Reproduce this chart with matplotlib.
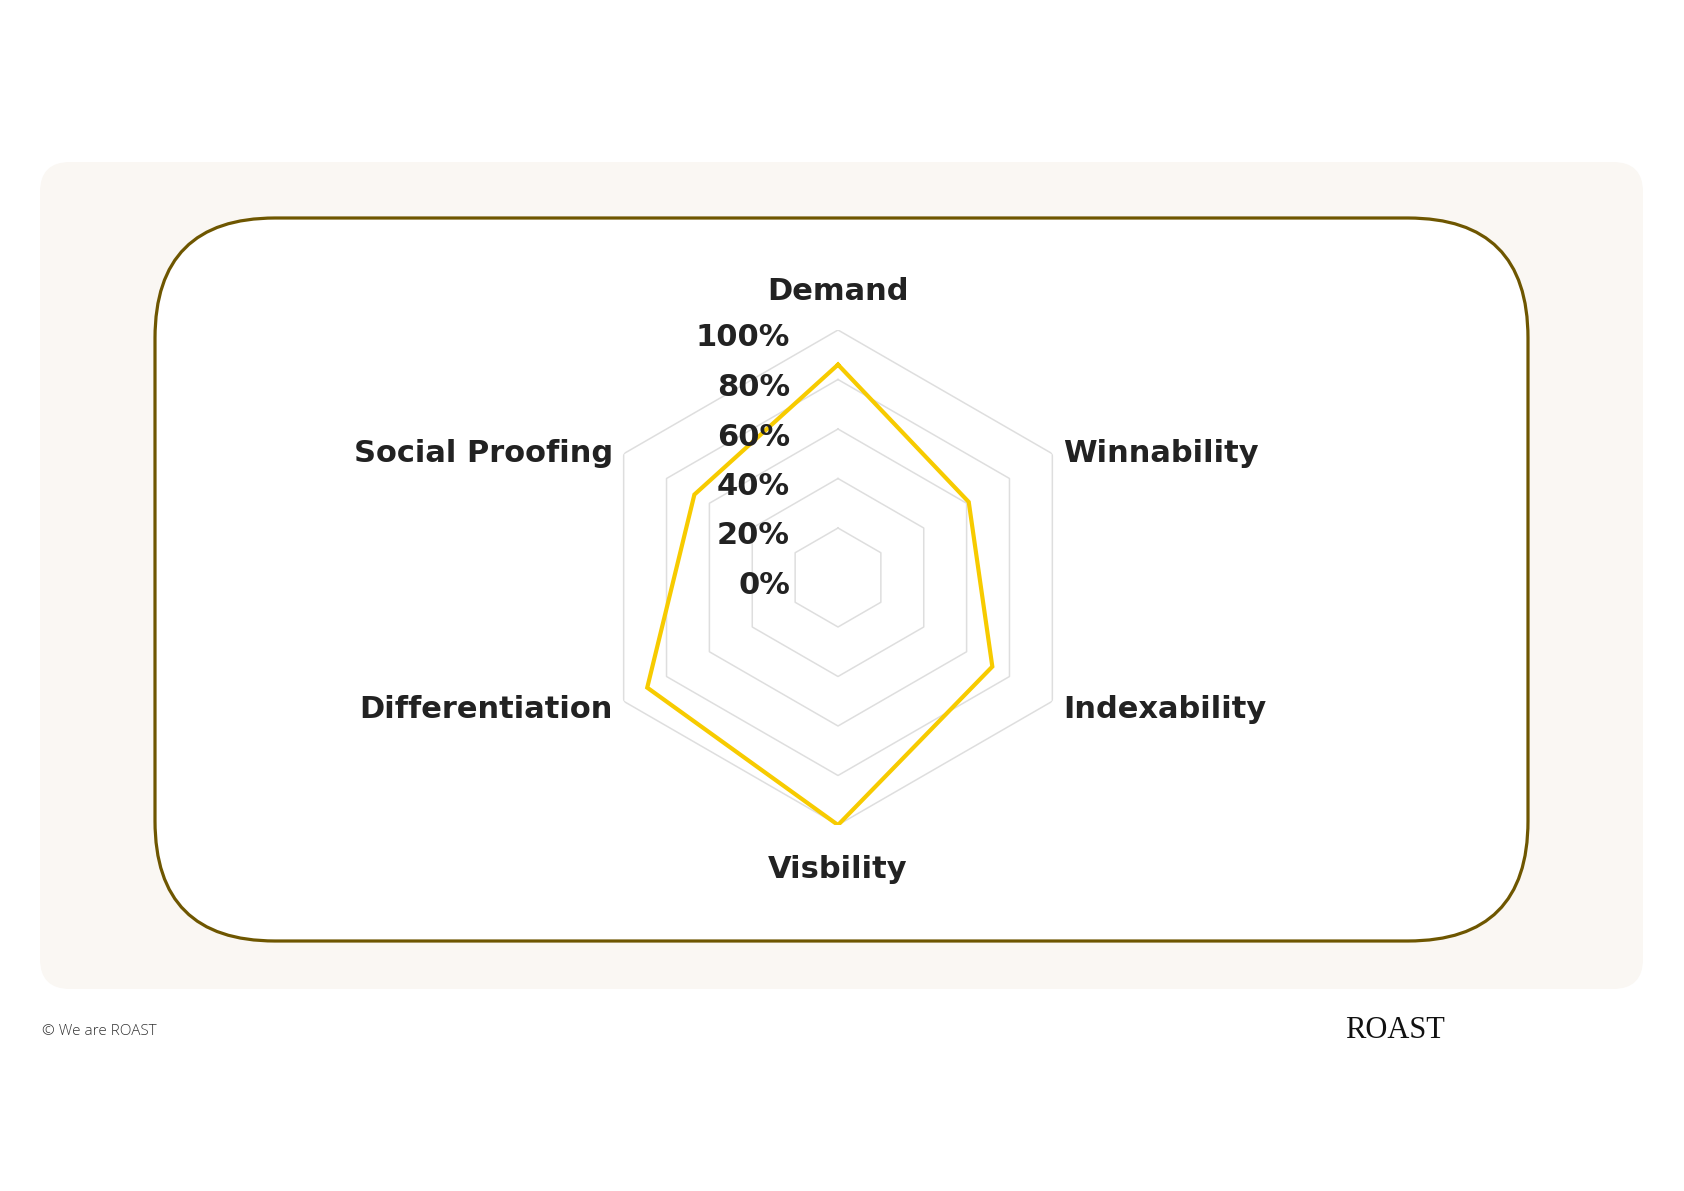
import matplotlib.pyplot as plt
import matplotlib.transforms as mtransforms
from matplotlib.patches import FancyBboxPatch
import numpy as np

# chart data
categories = ["Demand", "Winnability", "Indexability", "Visbility", "Differentiation", "Social Proofing"]
scores = [86, 61, 72, 100, 89, 67]
ring_levels = [20, 40, 60, 80, 100]
tick_values = [0, 20, 40, 60, 80, 100]
tick_labels = ["0%", "20%", "40%", "60%", "80%", "100%"]

W, H = 1684, 1191
fig = plt.figure(figsize=(W / 100, H / 100), dpi=100)
fig.patch.set_facecolor("white")

# background panel in pixel units
bg = fig.add_axes([0, 0, 1, 1], zorder=0)
bg.set_xlim(0, W)
bg.set_ylim(H, 0)
bg.axis("off")
bg.add_patch(FancyBboxPatch((40, 162), 1603, 827, boxstyle="round,pad=0,rounding_size=30",
                            facecolor="#FAF7F3", edgecolor="none"))
bg.add_patch(FancyBboxPatch((155, 218), 1373, 723, boxstyle="round,pad=0,rounding_size=120",
                            facecolor="white", edgecolor="#6E5600", linewidth=2.3))
bg.text(42, 1035, "\u00a9 We are ROAST", fontsize=11, color="#333333",
        family="Open Sans", fontweight="light", va="baseline", ha="left")
bg.text(1345, 1038, "ROAST", fontsize=22, color="#111111", family="Liberation Serif",
        va="baseline", ha="left")

# radar
cx, cy, rad = 838, 577.5, 247.5
ax = fig.add_axes([(cx - rad) / W, (H - cy - rad) / H, 2 * rad / W, 2 * rad / H],
                  projection="polar", zorder=1)
ax.set_facecolor("none")
ax.set_theta_zero_location("N")
ax.set_theta_direction(-1)
ax.set_ylim(0, 100)
ax.set_axis_off()

n = len(categories)
theta = np.linspace(0, 2 * np.pi, n, endpoint=False)
theta_closed = np.append(theta, theta[0])

for lvl in ring_levels:
    ax.plot(theta_closed, [lvl] * (n + 1), color="#dedede", linewidth=1.1, zorder=1)

ax.plot(theta_closed, scores + scores[:1], color="#F7CB00", linewidth=3, zorder=3,
        solid_joinstyle="miter")

label_font = dict(family="DejaVu Sans", fontweight="bold", fontsize=22, color="#222222")

# tick labels to the left of the vertical axis
tick_tr = mtransforms.offset_copy(ax.transData, fig=fig, x=-48, y=-8, units="dots")
for v, t in zip(tick_values, tick_labels):
    ax.text(0, v, t, transform=tick_tr, ha="right", va="center", zorder=4, **label_font)

# category labels around the outside
offsets = [(0, 38, "center"), (11, 0, "left"), (11, -8, "left"),
           (0, -45, "center"), (-11, -8, "right"), (-11, 0, "right")]
for ang, name, (dx, dy, ha) in zip(theta, categories, offsets):
    tr = mtransforms.offset_copy(ax.transData, fig=fig, x=dx, y=dy, units="dots")
    ax.text(ang, 100, name, transform=tr, ha=ha, va="center", zorder=4, **label_font)

fig.savefig("out.png", dpi=100, facecolor="white")
